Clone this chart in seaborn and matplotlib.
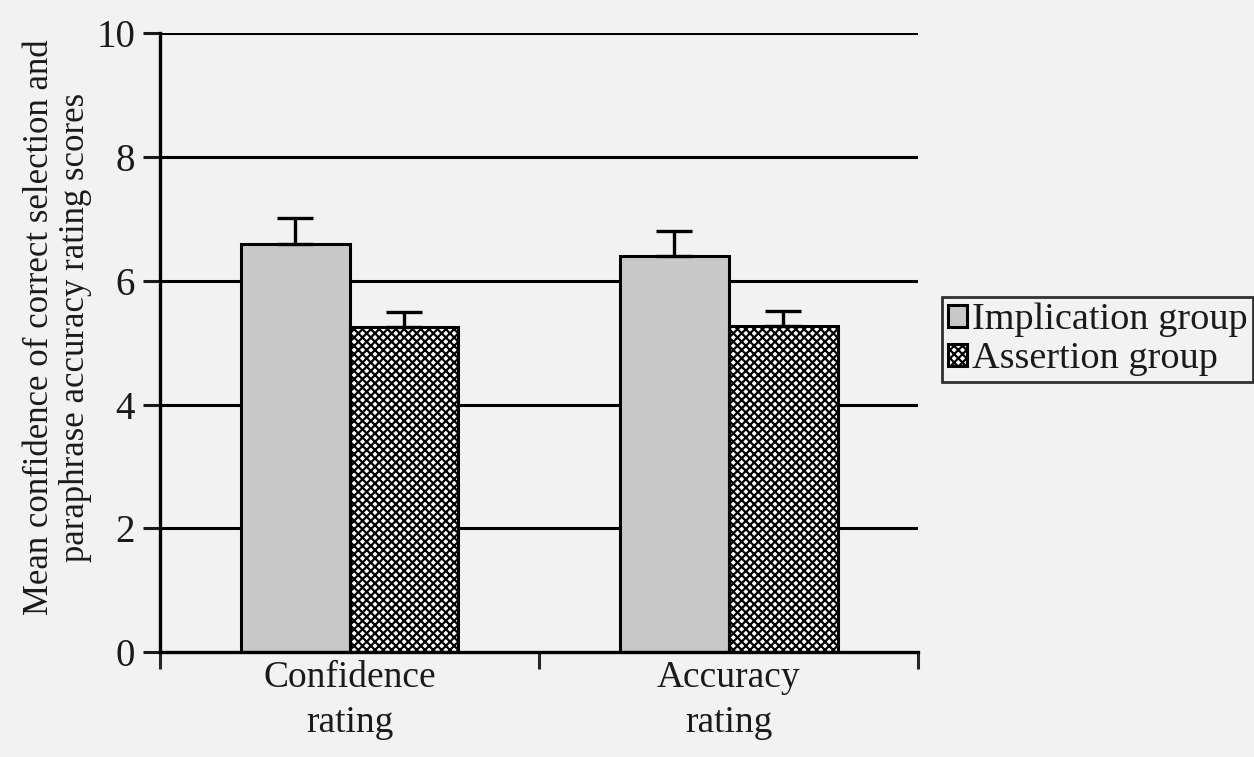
import pandas as pd
import matplotlib
matplotlib.use("Agg")
import matplotlib.pyplot as plt
import seaborn as sns

# Values
categories = ["Confidence\nrating", "Accuracy\nrating"]
groups = ["Implication group", "Assertion group"]
implication_means = [6.60, 6.40]
assertion_means = [5.25, 5.27]
implication_err = [0.42, 0.40]
assertion_err = [0.24, 0.24]

df = pd.DataFrame({
    "Rating": categories * 2,
    "Group": [groups[0]] * 2 + [groups[1]] * 2,
    "Score": implication_means + assertion_means,
})

sns.set_theme(style="white")
plt.rcParams["font.family"] = ["Liberation Serif", "DejaVu Serif"]
plt.rcParams["hatch.linewidth"] = 1.6

fig = plt.figure(figsize=(12.54, 7.57), dpi=100)
fig.patch.set_facecolor("#f2f2f2")
ax = fig.add_axes([0.1276, 0.1387, 0.6045, 0.8173])
ax.set_facecolor("#f2f2f2")

# horizontal reference lines behind the bars
for y in [2, 4, 6, 8, 10]:
    ax.axhline(y, color="black", lw=2.2, zorder=0)

sns.barplot(data=df, x="Rating", y="Score", hue="Group", hue_order=groups,
            palette=["#c8c8c8", "white"], width=0.575, errorbar=None,
            edgecolor="black", linewidth=2.2, ax=ax, zorder=2)

# hatch the assertion bars and add upper-only error bars
n_cat = len(categories)
for i, patch in enumerate(ax.patches[:2 * n_cat]):
    g = i // n_cat
    c = i % n_cat
    if g == 1:
        patch.set_hatch("xxxx")
    err = (implication_err if g == 0 else assertion_err)[c]
    xc = patch.get_x() + patch.get_width() / 2
    ax.errorbar(xc, patch.get_height(), yerr=[[0], [err]], fmt="none",
                ecolor="black", elinewidth=2.4, capsize=13, capthick=2.4, zorder=3)

ax.set_ylim(0, 10)
ax.set_xlim(-0.5, 1.5)
ax.set_yticks([0, 2, 4, 6, 8, 10])
ax.set_xticks([-0.5, 0.5, 1.5], minor=False)
ax.set_xticks([0, 1], minor=True)
ax.set_xticklabels(["", "", ""])
ax.set_xticklabels(categories, minor=True, linespacing=1.4)
ax.tick_params(axis="x", which="minor", length=0, labelsize=27, pad=6, colors="#1a1a1a")
ax.tick_params(axis="x", which="major", length=12, width=2.2, direction="out", bottom=True)
ax.tick_params(axis="y", length=12, width=2.2, direction="out", left=True, labelsize=28, pad=6,
               colors="#1a1a1a")
ax.set_xlabel("")
ax.set_ylabel("Mean confidence of correct selection and\nparaphrase accuracy rating scores",
              fontsize=25, linespacing=1.1, color="#1a1a1a")
ax.yaxis.set_label_coords(-0.09, 0.525)

for side in ["top", "right"]:
    ax.spines[side].set_visible(False)
for side in ["left", "bottom"]:
    ax.spines[side].set_linewidth(2.4)
    ax.spines[side].set_color("black")

leg = ax.legend(loc="center left", bbox_to_anchor=(1.032, 0.505), fontsize=27.5,
                frameon=True, fancybox=False, handlelength=0.5, handleheight=0.5,
                handletextpad=0.12, borderpad=0.15, labelspacing=0.12, borderaxespad=0)
leg.get_frame().set_edgecolor("black")
leg.get_frame().set_linewidth(2)
leg.get_frame().set_facecolor("#f2f2f2")
leg.legend_handles[1].set_hatch("xxxx")
for t in leg.get_texts():
    t.set_color("#1a1a1a")

plt.savefig("out.png", dpi=100, facecolor=fig.get_facecolor())
